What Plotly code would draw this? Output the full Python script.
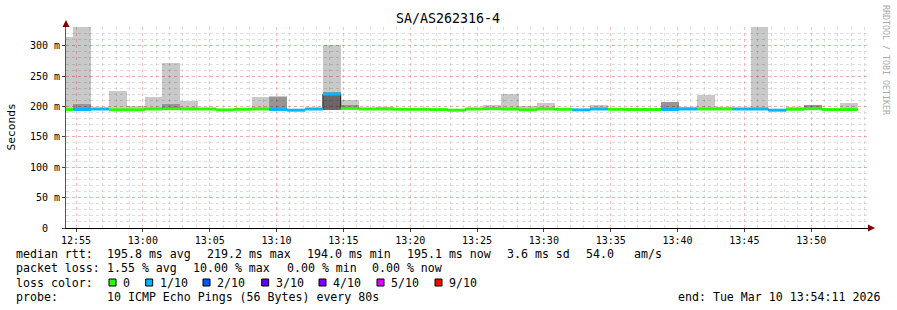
import plotly.graph_objects as go
import pandas as pd

# ---------------- data ----------------
t_start = pd.Timestamp("2026-03-10 12:53:28")   # start of first (partially visible) 80 s step
step_s = 80

median_ms = [195.2, 195.0, 196.0, 194.6, 194.6, 196.0, 196.5, 196.0, 196.0, 194.5,
             195.5, 196.0, 195.0, 194.0, 196.0, 220.5, 197.0, 196.0, 196.0, 195.5,
             195.5, 195.0, 194.0, 196.0, 196.5, 195.8, 194.6, 196.0, 195.5, 194.5,
             196.0, 195.5, 195.0, 195.0, 195.0, 196.0, 196.0, 196.0, 196.0, 196.0,
             194.0, 195.5, 196.5, 195.0, 195.1, None]
loss_count = [0, 1, 1, 0, 0, 0, 0, 0, 0, 0,
              0, 0, 1, 1, 1, 1, 0, 0, 0, 0,
              0, 0, 0, 0, 0, 0, 0, 0, 0, 1,
              1, 0, 0, 0, 1, 1, 0, 0, 1, 1,
              1, 0, 0, 0, 0, None]
ping_min_ms = [194.0, 194.0, 195.0, 193.5, 193.5, 195.0, 195.5, 195.0, 195.0, 193.5,
               194.5, 195.0, 194.0, 193.0, 195.0, 195.0, 196.0, 195.0, 195.0, 194.5,
               194.5, 194.0, 193.0, 195.0, 195.5, 194.8, 193.6, 195.0, 194.5, 193.5,
               195.0, 194.5, 194.0, 194.0, 194.0, 195.0, 195.0, 195.0, 195.0, 195.0,
               193.0, 194.5, 195.5, 194.0, 194.0, None]
ping_max_ms = [314, 345, 196.5, 225, 200.6, 216, 271, 209.5, 196.5, 195.5,
               197, 216, 217, 195, 196.5, 302, 210, 197, 199.5, 196.5,
               196, 196.5, 195, 196.5, 202, 220, 200.6, 206, 197, 195,
               202, 196.5, 196, 196, 207, 199.5, 219, 200, 197, 345,
               195, 200, 202, 196, 206, None]
ping_inner_ms = [None, 204, None, None, None, None, 204, None, None, None,
                 None, None, 216, None, None, 224, 202, None, None, None,
                 None, 196.5, None, None, None, None, None, None, 197, None,
                 None, None, None, None, 207, None, None, 197.5, None, None,
                 None, None, 202, None, None, None]
ping_core_ms = [None, None, None, None, None, None, 199, None, None, None,
                None, None, None, None, None, 221, None, None, None, None,
                None, None, None, None, None, None, None, None, None, None,
                None, None, None, None, None, None, None, None, None, None,
                None, None, None, None, None, None]

loss_colors = {0: "#26ff00", 1: "#00b8ff", 2: "#0059ff", 3: "#5e00ff",
               4: "#7e00ff", 5: "#dd00ff", 9: "#ff0000"}
legend_items = ["0", "1/10", "2/10", "3/10", "4/10", "5/10", "9/10"]
legend_keys = [0, 1, 2, 3, 4, 5, 9]

y_ticks = [0, 50, 100, 150, 200, 250, 300]
y_ticktext = ["0\u00a0\u00a0", "50 m", "100 m", "150 m", "200 m", "250 m", "300 m"]

x_range = ["2026-03-10 12:54:15", "2026-03-10 13:54:15"]
y_range = [0, 331]

# ---------------- figure ----------------
step = pd.Timedelta(seconds=step_s)
n = len(median_ms)
starts = [t_start + i * step for i in range(n)]
centers = [s + step / 2 for s in starts]
ends = [s + step for s in starts]

fig = go.Figure()

def smoke_layer(top, color):
    xs, bases, hs = [], [], []
    for c, lo, hi in zip(centers, ping_min_ms, top):
        if lo is None or hi is None:
            continue
        xs.append(c)
        bases.append(lo)
        hs.append(hi - lo)
    fig.add_trace(go.Bar(x=xs, y=hs, base=bases, width=step_s * 1000,
                         marker=dict(color=color, line=dict(width=0)),
                         hoverinfo="skip", showlegend=False))

smoke_layer(ping_max_ms, "rgba(0,0,0,0.21)")
smoke_layer(ping_inner_ms, "rgba(0,0,0,0.25)")
smoke_layer(ping_core_ms, "rgba(0,0,0,0.30)")

# dark median line (shows vertical jumps)
lx, ly = [], []
for s, e, m in zip(starts, ends, median_ms):
    if m is None:
        lx.append(None); ly.append(None)
        continue
    lx += [s, e]; ly += [m, m]
fig.add_trace(go.Scatter(x=lx, y=ly, mode="lines",
                         line=dict(color="#202020", width=1),
                         hoverinfo="skip", showlegend=False))

# loss-coloured median segments
for key, col in loss_colors.items():
    sx, sy = [], []
    for s, e, m, l in zip(starts, ends, median_ms, loss_count):
        if m is None or l != key:
            continue
        sx += [s, e, None]; sy += [m, m, None]
    if sx:
        fig.add_trace(go.Scatter(x=sx, y=sy, mode="lines",
                                 line=dict(color=col, width=3),
                                 hoverinfo="skip", showlegend=False))

MONO = "DejaVu Sans Mono"
L, R, T, B = 66, 29, 27, 82
W, H = 897, 310
PW, PH = W - L - R, H - T - B

def px(x):
    return (x - L) / PW

def py(y):
    return (H - B - y) / PH

anns = []

def text(t, x, y, size=11.6, color="#000000", anchor="left", angle=0):
    anns.append(dict(text=t, x=px(x), y=py(y), xref="paper", yref="paper",
                     xanchor=anchor, yanchor="middle", showarrow=False,
                     textangle=angle, borderpad=0, borderwidth=0,
                     font=dict(family=MONO, size=size, color=color)))

text("SA/AS262316-4", 448, 19, size=13.3, anchor="center")
text("Seconds", 11, 127.5, size=11.2, anchor="center", angle=-90)
text("RRDTOOL / TOBI OETIKER", 886, 60, size=8.3, color="#aaaaaa", anchor="center", angle=90)

y1, y2, y3, y4 = 254, 268.3, 282.7, 296.7
text("median rtt:", 16, y1)
for t, x in [("195.8 ms avg", 107), ("219.2 ms max", 207), ("194.0 ms min", 307),
             ("195.1 ms now", 407), ("3.6 ms sd", 507), ("54.0", 586), ("am/s", 634)]:
    text(t, x, y1)
text("packet loss:", 16, y2)
for t, x in [("1.55 % avg", 107), ("10.00 % max", 193), ("0.00 % min", 287), ("0.00 % now", 372)]:
    text(t, x, y2)
text("loss color:", 16, y3)
box_x = [109, 145.7, 203, 261.7, 319, 377, 435]
shapes = []
for bx, lab, key in zip(box_x, legend_items, legend_keys):
    shapes.append(dict(type="rect", xref="paper", yref="paper",
                       x0=px(bx), x1=px(bx + 7), y0=py(286), y1=py(279),
                       fillcolor=loss_colors[key], line=dict(color="black", width=1)))
    text(lab, bx + 14, y3)
text("probe:", 16, y4)
text("10 ICMP Echo Pings (56 Bytes) every 80s", 107, y4)
text("end: Tue Mar 10 13:54:11 2026", 677.7, y4)

# axis arrows
shapes.append(dict(type="path", xref="paper", yref="paper",
                   path=f"M {px(62.5)} {py(27)} L {px(69.5)} {py(27)} L {px(66)} {py(20)} Z",
                   fillcolor="#7f0000", line=dict(width=0)))
shapes.append(dict(type="path", xref="paper", yref="paper",
                   path=f"M {px(868)} {py(224.5)} L {px(868)} {py(231.5)} L {px(875)} {py(228)} Z",
                   fillcolor="#7f0000", line=dict(width=0)))

major_grid = "rgba(255,110,110,0.45)"
minor_grid = "rgba(170,170,170,0.38)"

fig.update_layout(
    width=W, height=H,
    margin=dict(l=L, r=R, t=T, b=B, pad=0),
    paper_bgcolor="white", plot_bgcolor="white",
    barmode="overlay", bargap=0,
    showlegend=False,
    annotations=anns, shapes=shapes,
    xaxis=dict(type="date", range=x_range, tickformat="%H:%M",
               tick0="2026-03-10 12:55:00", dtick=300000,
               showgrid=True, gridcolor=major_grid, griddash="dot", gridwidth=1,
               minor=dict(tick0="2026-03-10 12:55:00", dtick=60000, showgrid=True,
                          gridcolor=minor_grid, griddash="dot", ticks=""),
               showline=True, linecolor="black", linewidth=1,
               ticks="outside", ticklen=3, tickcolor="#444",
               tickfont=dict(family=MONO, size=10, color="black"),
               zeroline=False, fixedrange=True),
    yaxis=dict(range=y_range, tickmode="array", tickvals=y_ticks, ticktext=y_ticktext,
               showgrid=True, gridcolor=major_grid, griddash="dot", gridwidth=1,
               minor=dict(tickmode="linear", tick0=0, dtick=10, showgrid=True,
                          gridcolor=minor_grid, griddash="dot", ticks=""),
               showline=True, linecolor="#555", linewidth=1,
               ticks="outside", ticklen=3, tickcolor="#444",
               tickfont=dict(family=MONO, size=10, color="black"),
               zeroline=False, fixedrange=True),
)

fig.write_html("out.html", config={"displayModeBar": False})
